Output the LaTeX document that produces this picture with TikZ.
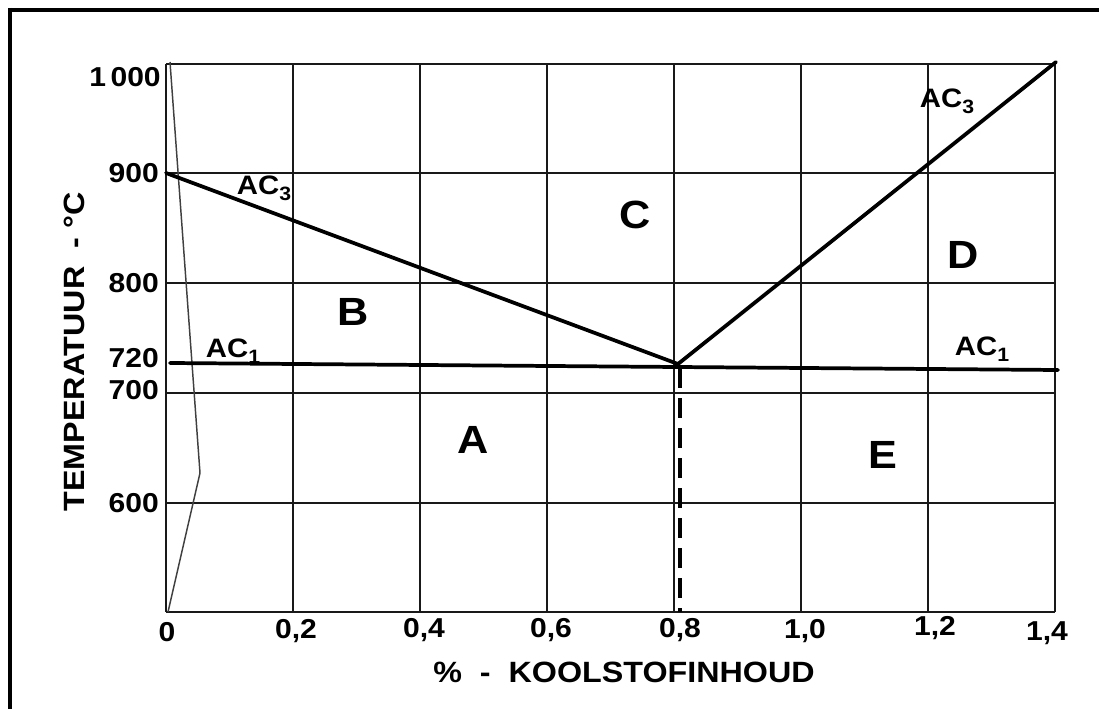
\documentclass[tikz,border=0pt]{standalone}
\usepackage{fontspec}
\setmainfont{Liberation Sans}[FakeStretch=1.1]
\newcommand{\acsub}[1]{\raisebox{-0.45ex}{\fontsize{14.5}{14.5}\selectfont #1}}
\begin{document}
\begin{tikzpicture}[x=0.75pt,y=-0.75pt,
  gridline/.style={line width=1.4pt, black!90},
  phase/.style={line width=2.8pt, black, line cap=round},
  thinline/.style={line width=1.1pt, black!75},
  frameline/.style={line width=3.5pt, black},
  dashline/.style={line width=3pt, black, dash pattern=on 15pt off 7.5pt},
  tick/.style={font=\bfseries\fontsize{20.5}{20.5}\selectfont, inner sep=0pt},
  region/.style={font=\bfseries\fontsize{29.5}{29.5}\selectfont, inner sep=0pt},
  axislabel/.style={font=\bfseries\fontsize{22}{22}\selectfont, inner sep=0pt},
  aclabel/.style={font=\bfseries\fontsize{20}{20}\selectfont, inner sep=0pt}]
\useasboundingbox (0,0) rectangle (1099,709);
% frame
\coordinate (f1) at (8,10);
\coordinate (f2) at (1099,10);
\coordinate (f3) at (10,8);
\coordinate (f4) at (10,709);
\draw[frameline] (f1) -- (f2);
\draw[frameline] (f3) -- (f4);
% grid
\foreach \x in {166,293,420,547,674,801,928,1055}
  \draw[gridline] (\x,64) -- (\x,612);
\foreach \y in {64,173,283,393,503,612}
  \draw[gridline] (166,\y) -- (1055,\y);
% thin left line
\coordinate (t1) at (170,62);
\coordinate (t2) at (200,473);
\coordinate (t3) at (168,612);
\draw[thinline] (t1) -- (t2) -- (t3);
% phase lines
\coordinate (a3l) at (166,173);
\coordinate (eut) at (678,364);
\coordinate (a3r) at (1056,62);
\coordinate (a1l) at (170,363);
\coordinate (a1r) at (1058,370);
\coordinate (dbot) at (680,612);
\coordinate (dtop) at (680,368);
\draw[phase] (a1l) -- (a1r);
\draw[phase] (a3l) -- (eut) -- (a3r);
\draw[dashline] (dtop) -- (dbot);
% y tick labels
\node[tick, anchor=east] (y1000) at (161,77) {1\,000};
\node[tick, anchor=east] (y900) at (159,173) {900};
\node[tick, anchor=east] (y800) at (159,283) {800};
\node[tick, anchor=east] (y720) at (159,358) {720};
\node[tick, anchor=east] (y700) at (159,390) {700};
\node[tick, anchor=east] (y600) at (159,503) {600};
% x tick labels
\node[tick] (x0) at (167,632) {0};
\node[tick] (x02) at (296,631) {0,2};
\node[tick] (x04) at (424,630) {0,4};
\node[tick] (x06) at (551,630) {0,6};
\node[tick] (x08) at (680,630) {0,8};
\node[tick] (x10) at (805,631) {1,0};
\node[tick] (x12) at (935,628) {1,2};
\node[tick] (x14) at (1047,633) {1,4};
% axis labels
\node[axislabel, rotate=90] (ylab) at (74,352) {TEMPERATUUR\ \ -\ °C};
\node[axislabel] (xlab) at (624,672) {\%\ \ -\ \ KOOLSTOFINHOUD};
% AC labels
\node[aclabel] (ac3l) at (264,188) {AC\acsub{3}};
\node[aclabel] (ac1l) at (233,351) {AC\acsub{1}};
\node[aclabel] (ac3r) at (947,101) {AC\acsub{3}};
\node[aclabel] (ac1r) at (982,349) {AC\acsub{1}};
% region labels
\node[region] (rA) at (473,440) {A};
\node[region] (rB) at (353,312) {B};
\node[region] (rC) at (635,215) {C};
\node[region] (rD) at (963,255) {D};
\node[region] (rE) at (883,455) {E};
\end{tikzpicture}
\end{document}
